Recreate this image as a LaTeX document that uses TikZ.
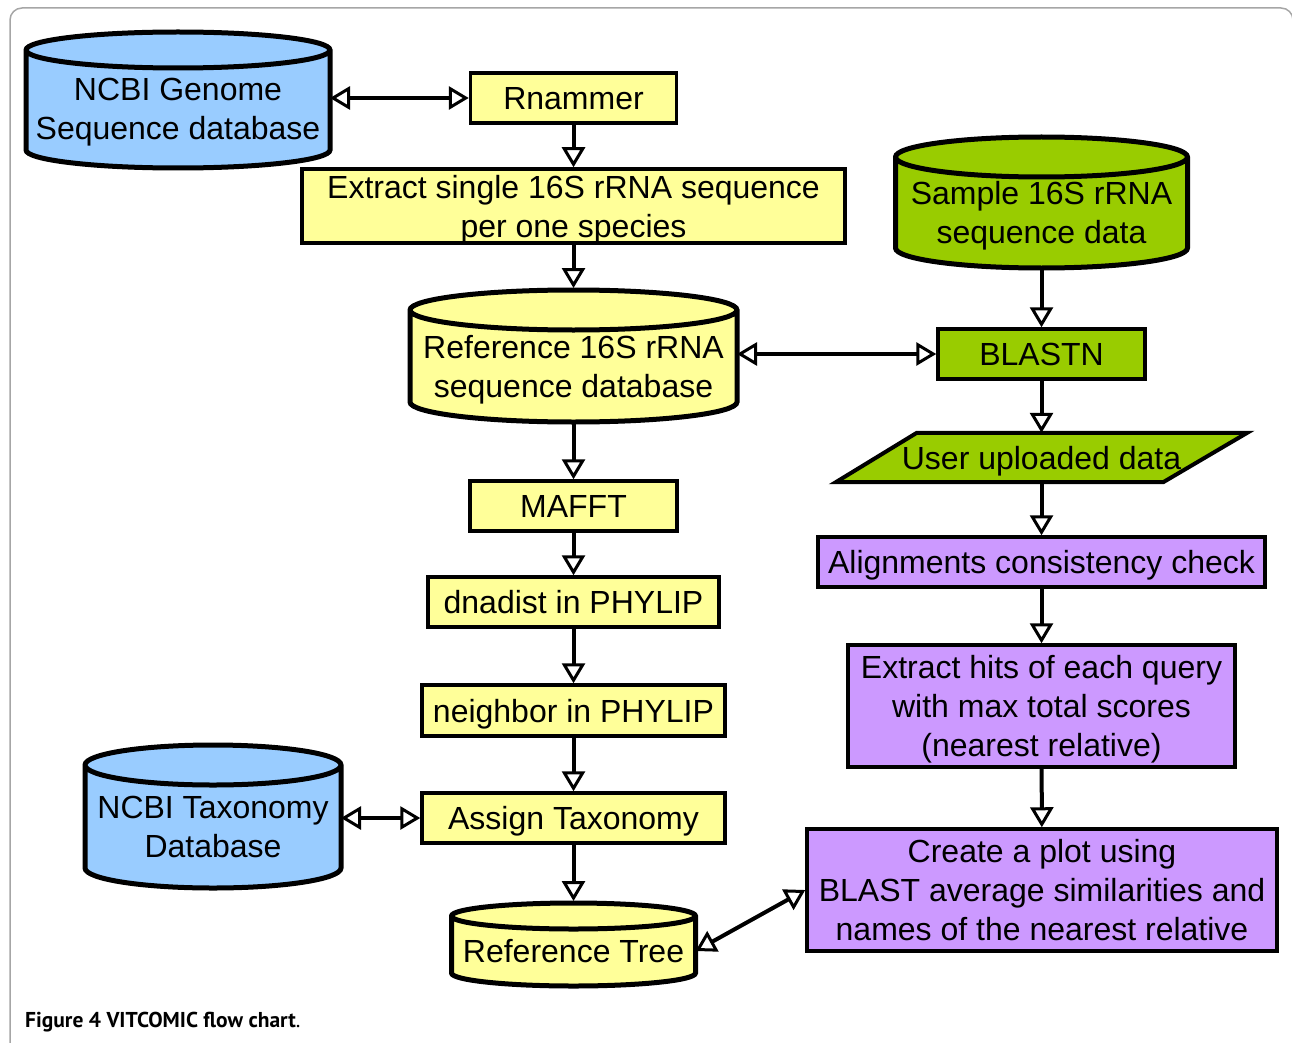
\documentclass[tikz,border=0pt]{standalone}
\usepackage{fontspec}
\setmainfont{Liberation Sans}
\newfontfamily\capfont{PT Sans}
\usepackage{tikz}
\usetikzlibrary{arrows.meta,calc,backgrounds}

\definecolor{dbblue}{HTML}{99CCFF}
\definecolor{pale}{HTML}{FFFF99}
\definecolor{lime}{HTML}{99CC00}
\definecolor{lilac}{HTML}{CC99FF}

% database drum behind a text node: name, fill, end radius
\newcommand{\drum}[3]{%
  \begin{scope}[on background layer]
    \path[draw,line width=5pt,fill=#2]
      let \p1=(#1.north west), \p2=(#1.south east), \n1={(\x2-\x1)/2} in
      (\x1,\y1+#3) -- (\x1,\y2)
      arc[start angle=180,end angle=360,x radius={\n1*1pt},y radius=#3]
      -- (\x2,\y1+#3)
      arc[start angle=0,end angle=180,x radius={\n1*1pt},y radius=#3] -- cycle
      (\x1,\y1+#3) arc[start angle=180,end angle=360,x radius={\n1*1pt},y radius=#3];
  \end{scope}
  \coordinate (#1-top) at ([yshift=2*#3+2pt]#1.north);
  \coordinate (#1-bot) at ([yshift=-#3-2pt]#1.south);
}

\begin{document}
\begin{tikzpicture}
  [x=1pt,y=1pt,
   every node/.style={font=\fontsize{32}{39}\selectfont,align=center,inner sep=0pt,text depth=0pt},
   box/.style={rectangle,draw,line width=3.5pt,fill=#1},
   drumtext/.style={rectangle,outer sep=0pt},
   frame/.style={draw=black!35,line width=1.5pt,rounded corners=12pt},
   > = {Triangle[open,length=20pt,width=23pt,line width=3pt]},
   edge/.style={->,line width=4pt},
   twoway/.style={<->,line width=4pt}]
  \useasboundingbox (0,0) rectangle (1292,-1043);
  \draw[frame] (10,-1043) |- (1293,-8) -- (1293,-60);

  % left column
  \node[drumtext,minimum width=304,minimum height=82] (gdb) at (178,-109) {NCBI Genome\\Sequence database};
  \drum{gdb}{dbblue}{18pt}
  \node[box=pale,minimum width=206,minimum height=50] (rnammer) at (573.5,-98) {Rnammer};
  \node[box=pale,minimum width=543,minimum height=74] (extract) at (573.5,-206) {Extract single 16S rRNA sequence\\per one species};
  \node[drumtext,minimum width=327,minimum height=72] (ref16) at (573.5,-366) {Reference 16S rRNA\\sequence database};
  \drum{ref16}{pale}{20pt}
  \node[box=pale,minimum width=207,minimum height=50] (mafft) at (573.5,-506) {MAFFT};
  \node[box=pale,minimum width=291,minimum height=50] (dnadist) at (573.5,-602) {dnadist in PHYLIP};
  \node[box=pale,minimum width=303,minimum height=51] (neighbor) at (573.5,-710.5) {neighbor in PHYLIP};
  \node[box=pale,minimum width=303,minimum height=50] (assign) at (573.5,-818) {Assign Taxonomy};
  \node[drumtext,minimum width=256,minimum height=83] (taxdb) at (213,-826.5) {NCBI Taxonomy\\Database};
  \drum{taxdb}{dbblue}{20pt}
  \node[drumtext,minimum width=244,minimum height=44] (tree) at (573.5,-951) {Reference Tree};
  \drum{tree}{pale}{13pt}

  % right column
  \node[drumtext,minimum width=292,minimum height=71] (sample) at (1041.5,-212.5) {Sample 16S rRNA\\sequence data};
  \drum{sample}{lime}{20pt}
  \node[box=lime,minimum width=207,minimum height=50] (blastn) at (1041.5,-354) {BLASTN};
  \node[minimum width=411,minimum height=49] (upload) at (1041.5,-457.5) {User uploaded data};
  \begin{scope}[on background layer]
    \draw[line width=4pt,fill=lime] ([xshift=81]upload.north west) -- (upload.north east)
      -- ([xshift=-84]upload.south east) -- (upload.south west) -- cycle;
  \end{scope}
  \node[box=lilac,minimum width=447,minimum height=50] (align) at (1041.5,-562) {Alignments consistency check};
  \node[box=lilac,minimum width=387,minimum height=122] (hits) at (1041.5,-706) {Extract hits of each query\\with max total scores\\(nearest relative)};
  \node[box=lilac,minimum width=470,minimum height=122] (plot) at (1042,-890) {Create a plot using\\BLAST average similarities and\\names of the nearest relative};

  \node[anchor=base west,font=\capfont\fontsize{21.5}{25}\selectfont\bfseries] (caption) at (25,-1027) {Figure 4 VITCOMIC flow chart\mdseries .};

  \draw[twoway] (gdb.east |- rnammer.west) -- (rnammer.west);
  \draw[edge] (rnammer) -- (extract);
  \draw[edge] (extract) -- (ref16-top);
  \draw[twoway] (ref16.east |- blastn.west) -- (blastn.west);
  \draw[edge] (ref16-bot) -- (mafft);
  \draw[edge] (mafft) -- (dnadist);
  \draw[edge] (dnadist) -- (neighbor);
  \draw[edge] (neighbor) -- (assign);
  \draw[twoway] (taxdb.east |- assign.west) -- (assign.west);
  \draw[edge] (assign) -- (tree-top);
  \draw[edge] (sample-bot) -- (blastn);
  \draw[edge] (blastn) -- (upload);
  \draw[edge] (upload) -- (align);
  \draw[edge] (align) -- (hits);
  \draw[edge] (hits) -- (plot);
  \draw[twoway] (tree.east) -- (plot.west);
\end{tikzpicture}
\end{document}
